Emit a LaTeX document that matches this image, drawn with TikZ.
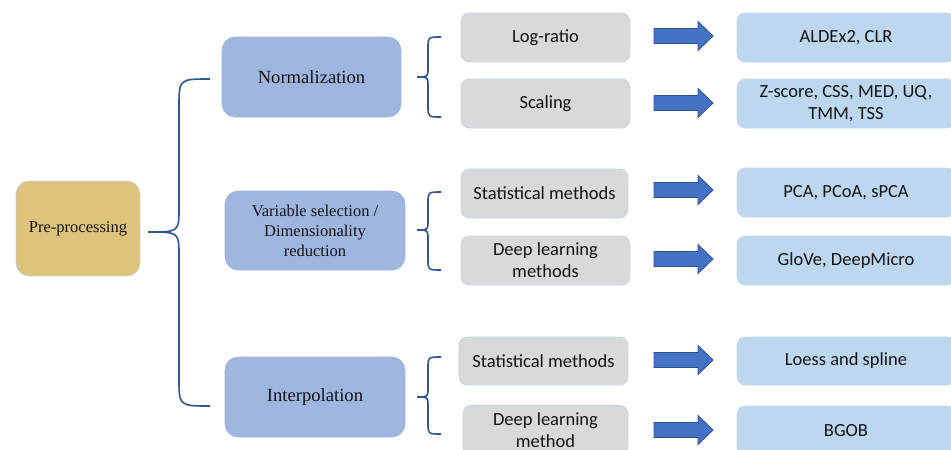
\documentclass[tikz,border=0pt]{standalone}
\usepackage{fontspec}
\setmainfont{Carlito}
\newfontfamily\serifface{Liberation Serif}
\usetikzlibrary{positioning}
\definecolor{preFill}{HTML}{DEC47A}
\definecolor{catFill}{HTML}{9FB6E1}
\definecolor{grayFill}{HTML}{D9D9D9}
\definecolor{ltBlue}{HTML}{BDD7EE}
\definecolor{edgeBlue}{HTML}{C3D3EC}
\definecolor{arrFill}{HTML}{4472C4}
\definecolor{arrEdge}{HTML}{2F528F}
\definecolor{braceCol}{HTML}{2F5597}
\definecolor{txt}{HTML}{141414}
\newcommand\mybrace[8]{% xe, xv, xt, ytop, ymid, ybot, rend, rtip
  \draw[bracestyle] (#1,#4) .. controls (#2,#4) .. (#2,#4+#7) -- (#2,#5-#8)
    .. controls (#2,#5) .. (#3,#5) .. controls (#2,#5) .. (#2,#5+#8)
    -- (#2,#6-#7) .. controls (#2,#6) .. (#1,#6);}
\newcommand\myarrow[1]{% centre y
  \draw[arrowstyle] (654,#1-7.5) -- (698,#1-7.5) -- (698,#1-14.5) -- (713,#1)
    -- (698,#1+14.5) -- (698,#1+7.5) -- (654,#1+7.5) -- cycle;}
\tikzset{
  bracestyle/.style={draw=braceCol, line width=1.6pt},
  arrowstyle/.style={fill=arrFill, draw=arrEdge, line width=0.8pt},
  prebox/.style={draw=edgeBlue, line width=0.6pt, fill=preFill, rounded corners=13pt,
    minimum width=124pt, minimum height=95pt, font=\serifface\fontsize{16.5}{20}\selectfont,
    text=txt, align=center, inner sep=0pt},
  catbox/.style={draw=catFill, line width=0.6pt, fill=catFill, rounded corners=13pt,
    minimum width=180pt, minimum height=80pt, font=\serifface\fontsize{18.6}{20}\selectfont,
    text=txt, align=center, inner sep=0pt},
  graybox/.style={draw=edgeBlue, line width=0.6pt, fill=grayFill, rounded corners=8pt,
    minimum width=169pt, minimum height=49pt, font=\fontsize{18.5}{22}\selectfont,
    text=txt, align=center, inner sep=0pt},
  resbox/.style={draw=ltBlue, line width=0.6pt, fill=ltBlue, rounded corners=8pt,
    minimum width=218pt, minimum height=49pt, font=\fontsize{18.5}{22}\selectfont,
    text=txt, align=center, inner sep=0pt},
}
\begin{document}
\begin{tikzpicture}[x=1pt,y=-1pt]
\useasboundingbox (0,0) rectangle (951,450);
% level 1
\node[prebox] (pre) at (78,228.5) {Pre-processing};
% level 2
\node[catbox, minimum width=179pt] (norm) at (311.5,77) {Normalization};
\node[catbox, minimum height=79pt, font=\serifface\fontsize{16.5}{20}\selectfont] (var) at (315,230.5) {Variable selection /\\Dimensionality\\reduction};
\node[catbox] (interp) at (315,397) {Interpolation};
% level 3
\node[graybox] (logr) at (545.5,37.5) {Log-ratio};
\node[graybox] (scal) at (545.5,103.5) {Scaling};
\node[graybox, minimum width=167pt] (stat1) at (544.5,193.5) {Statistical methods};
\node[graybox] (dl1) at (545.5,260.5) {Deep learning\\methods};
\node[graybox, minimum width=169pt, minimum height=48pt] (stat2) at (543.5,361) {Statistical methods};
\node[graybox, minimum width=165pt] (dl2) at (545.5,430) {Deep learning\\method};
% level 4
\node[resbox] (r1) at (846,37.5) {ALDEx2, CLR};
\node[resbox] (r2) at (846,103.5) {Z-score, CSS, MED, UQ,\\TMM, TSS};
\node[resbox] (r3) at (846,192.5) {PCA, PCoA, sPCA};
\node[resbox] (r4) at (846,260.5) {GloVe, DeepMicro};
\node[resbox, minimum height=48pt] (r5) at (846,361) {Loess and spline};
\node[resbox] (r6) at (846,430.5) {BGOB};
% braces
\mybrace{210}{179}{148}{79}{232}{406}{28}{24}
\mybrace{441}{428}{417}{37}{77}{117}{11}{9}
\mybrace{441}{428}{417}{192}{230}{270}{11}{9}
\mybrace{441}{428}{417}{357}{397}{434}{11}{9}
% arrows
\myarrow{36}
\myarrow{103}
\myarrow{190}
\myarrow{259}
\myarrow{360}
\myarrow{430}
\end{tikzpicture}
\end{document}
